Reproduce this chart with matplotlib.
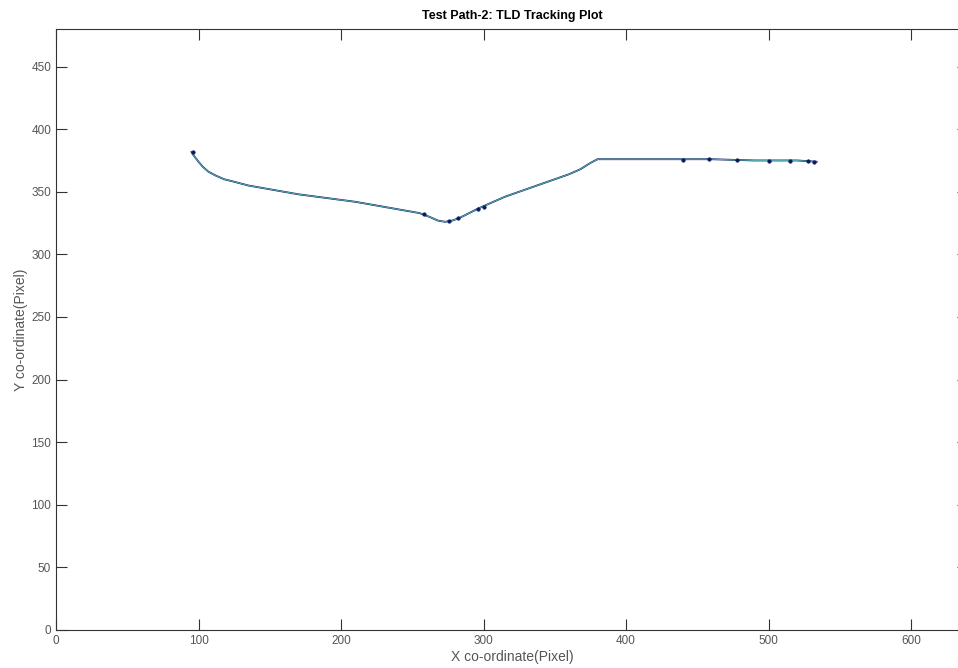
import matplotlib
matplotlib.use("Agg")
import matplotlib.pyplot as plt

# Tracked path (pixel coordinates)
path_x = [95, 96, 98, 100, 103, 107, 112, 118, 125, 135, 150, 170, 190, 210, 230,
          245, 255, 262, 268, 273, 278, 283, 290, 297, 303, 315, 330, 345, 360,
          368, 375, 380, 400, 430, 460, 490, 520, 534]
path_y = [382, 380, 377, 374, 370, 366, 363, 360, 358, 355, 352, 348, 345, 342, 338,
          335, 333, 330, 327, 326, 327, 329, 333, 337, 340, 346, 352, 358, 364,
          368, 373, 376, 376, 376, 376, 375, 375, 374]

# Dense (overlapping) detections along the path
blob_x = [96, 258, 276, 282, 296, 300, 440, 458, 478, 500, 515, 528, 532]
blob_y = [382, 332, 327, 329, 336, 338, 375.5, 375.8, 375, 374.8, 374.8, 374.5, 374]

title = "Test Path-2: TLD Tracking Plot"
xlabel = "X co-ordinate(Pixel)"
ylabel = "Y co-ordinate(Pixel)"
xticks = [0, 100, 200, 300, 400, 500, 600]
yticks = [0, 50, 100, 150, 200, 250, 300, 350, 400, 450]

plt.rcParams['font.family'] = ['Liberation Sans', 'DejaVu Sans']

fig = plt.figure(figsize=(9.58, 6.68), dpi=100)
ax = fig.add_axes([56/958, 38/668, 912/958, 601/668])

ax.plot(path_x, path_y, color='#0b1f5c', lw=1.3, solid_capstyle='round', zorder=2)
ax.plot(path_x, path_y, color='#5ab0b4', lw=0.7, zorder=3)
ax.plot(blob_x, blob_y, linestyle='none', marker='o', markersize=2.4,
        markeredgewidth=0.6, color='#0a1a60', zorder=4)

ax.set_xlim(0, 640)
ax.set_ylim(0, 480)
ax.set_xticks(xticks)
ax.set_yticks(yticks)
ax.tick_params(direction='in', length=8, width=0.8, top=True, right=True,
               labelsize=8.5, colors='#333333', labelcolor='#555555')
for s in ax.spines.values():
    s.set_linewidth(0.8)
    s.set_color('#333333')

ax.set_title(title, fontsize=9, fontweight='bold', pad=7)
ax.set_xlabel(xlabel, fontsize=10, color='#555555', labelpad=2)
ax.set_ylabel(ylabel, fontsize=10, color='#555555', labelpad=2)

fig.savefig("out.png", dpi=100)
